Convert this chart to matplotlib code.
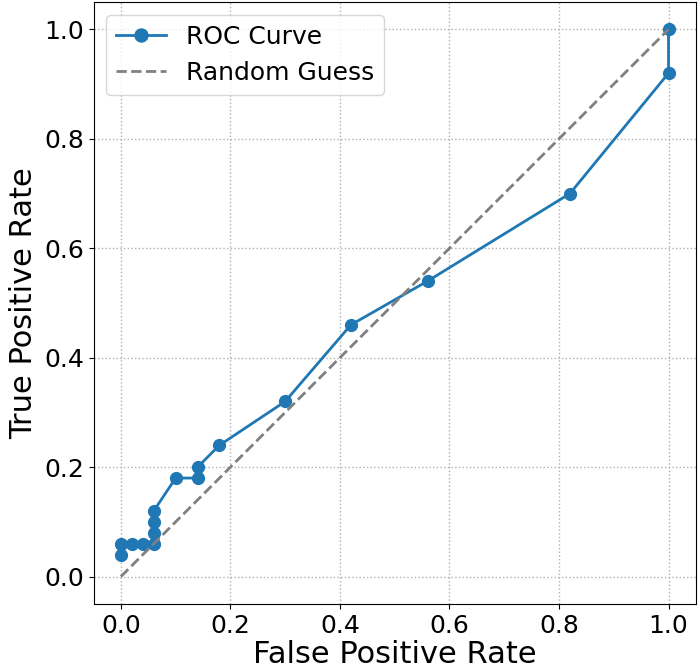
import matplotlib
matplotlib.use("Agg")
import matplotlib.pyplot as plt

# ROC points
fpr = [0.0, 0.0, 0.02, 0.04, 0.06, 0.06, 0.06, 0.06, 0.10, 0.14, 0.14, 0.18, 0.30, 0.42, 0.56, 0.82, 1.0, 1.0]
tpr = [0.04, 0.06, 0.06, 0.06, 0.06, 0.08, 0.10, 0.12, 0.18, 0.18, 0.20, 0.24, 0.32, 0.46, 0.54, 0.70, 0.92, 1.0]
diag = [0, 1]

fig = plt.figure(figsize=(6.98, 6.71), dpi=100)
ax = fig.add_axes([0.134, 0.1, 0.863, 0.897])

ax.plot(fpr, tpr, marker='o', color='#1f77b4', linewidth=2, markersize=8.5, label='ROC Curve')
ax.plot(diag, diag, linestyle='--', color='gray', linewidth=2, label='Random Guess')

ax.set_xlabel('False Positive Rate', fontsize=22, labelpad=2)
ax.set_ylabel('True Positive Rate', fontsize=22)
ax.tick_params(labelsize=18)
ax.grid(True, linestyle=':', linewidth=1)
ax.legend(loc='upper left', fontsize=18, markerscale=1.1)

fig.savefig('out.png')
